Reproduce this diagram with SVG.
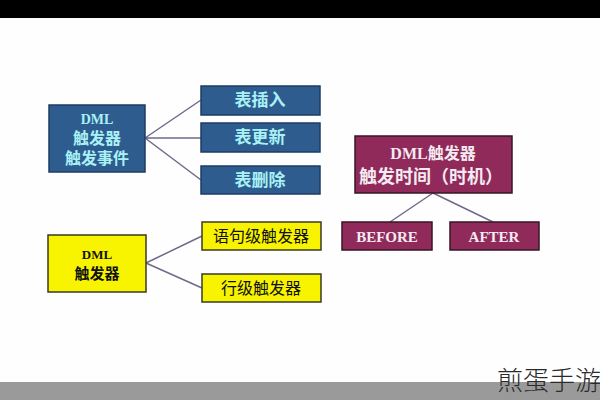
<svg xmlns="http://www.w3.org/2000/svg" width="600" height="400" viewBox="0 0 600 400">
<style>
.cjk{font-family:"Liberation Serif","Noto Sans CJK SC",serif;font-weight:bold;text-anchor:middle}
.blue{fill:#2F5C8F;stroke:#1E3D63;stroke-width:1.5}
.bt{fill:#A8F2F5;font-size:16px}
.yel{fill:#F8F400;stroke:#3A3A20;stroke-width:1.5}
.yt{fill:#111;font-size:15px}
.mar{fill:#8F2A5B;stroke:#3A1525;stroke-width:1.5}
.mt{fill:#F4EAF0;font-size:16px}
.con{stroke:#6E6A8A;stroke-width:1.5;fill:none}
</style>
<rect x="0" y="0" width="600" height="400" fill="#FEFEFE"/>
<rect x="0" y="0" width="600" height="18" fill="#000"/>
<rect x="0" y="382" width="600" height="18" fill="#9A9A9A"/>
<g id="connectors">
<path class="con" d="M145 138 L201 100 M145 138 L201 138 M145 138 L201 180"/>
<path class="con" d="M146 263 L202 236 M146 263 L202 288"/>
<path class="con" d="M433 193 L390 222 M433 193 L493 222"/>
</g>
<g id="n-events">
<rect class="blue" x="49" y="105" width="96" height="67"/>
<text class="cjk bt" x="97" y="124" style="font-size:14px">DML</text>
<text class="cjk bt" x="97" y="144">触发器</text>
<text class="cjk bt" x="97" y="164">触发事件</text>
</g>
<g id="n-insert">
<rect class="blue" x="201" y="86" width="119" height="29"/>
<text class="cjk bt" x="260" y="106" style="font-size:17px">表插入</text>
</g>
<g id="n-update">
<rect class="blue" x="201" y="123" width="119" height="29"/>
<text class="cjk bt" x="260" y="143" style="font-size:17px">表更新</text>
</g>
<g id="n-delete">
<rect class="blue" x="201" y="166" width="119" height="28"/>
<text class="cjk bt" x="260" y="186" style="font-size:17px">表删除</text>
</g>
<g id="n-dml">
<rect class="yel" x="48" y="235" width="98" height="57"/>
<text class="cjk yt" x="97" y="259" style="font-size:13px">DML</text>
<text class="cjk yt" x="97" y="279">触发器</text>
</g>
<g id="n-stmt">
<rect class="yel" x="202" y="222" width="119" height="28"/>
<text class="cjk yt" x="261" y="242" style="font-size:16px;font-weight:normal">语句级触发器</text>
</g>
<g id="n-row">
<rect class="yel" x="202" y="274" width="119" height="28"/>
<text class="cjk yt" x="261" y="294" style="font-size:16px;font-weight:normal">行级触发器</text>
</g>
<g id="n-timing">
<rect class="mar" x="355" y="136" width="157" height="57"/>
<text class="cjk mt" x="433" y="159">DML触发器</text>
<text class="cjk mt" x="431" y="183" style="font-size:18px">触发时间（时机）</text>
</g>
<g id="n-before">
<rect class="mar" x="342" y="222" width="90" height="28"/>
<text class="cjk mt" x="387" y="242" style="font-size:15px">BEFORE</text>
</g>
<g id="n-after">
<rect class="mar" x="450" y="222" width="89" height="28"/>
<text class="cjk mt" x="494" y="242" style="font-size:15px">AFTER</text>
</g>
<text x="549" y="390" font-family="'Noto Sans CJK SC',sans-serif" font-size="26" font-weight="300" fill="#2A2A2A" text-anchor="middle">煎蛋手游</text>
</svg>
